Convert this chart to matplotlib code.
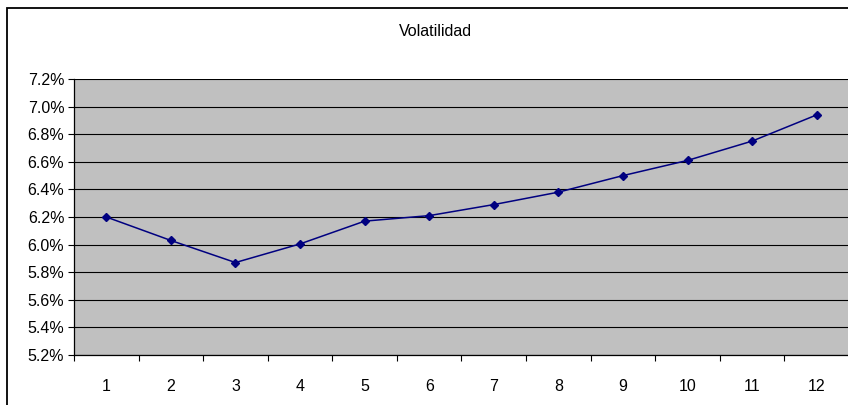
import matplotlib.pyplot as plt
from matplotlib.patches import Rectangle
from matplotlib.ticker import FixedLocator, FuncFormatter

# Volatility by period (percent)
periods = list(range(1, 13))
volatility = [6.20, 6.03, 5.87, 6.005, 6.17, 6.21, 6.29, 6.38, 6.50, 6.61, 6.75, 6.94]
y_ticks = [5.2, 5.4, 5.6, 5.8, 6.0, 6.2, 6.4, 6.6, 6.8, 7.0, 7.2]
title = 'Volatilidad'

plt.rcParams['font.family'] = ['Liberation Sans', 'DejaVu Sans']

W, H = 848, 405
fig = plt.figure(figsize=(W / 100, H / 100), dpi=100)

# chart-area frame, open on the right and bottom edges
fig.patches.append(Rectangle((6.5 / W, -0.1), 1.2, 1 - 7.5 / H + 0.1,
                             transform=fig.transFigure, fill=False,
                             edgecolor='black', linewidth=1.3))

ax = fig.add_axes([74 / W, 1 - 355 / H, (849 - 74) / W, (355 - 79) / H])
ax.set_facecolor('#C0C0C0')

ax.plot(periods, volatility, color='#000080', linewidth=1.1,
        marker='D', markersize=4.5, zorder=3, clip_on=False)

ax.set_xlim(0.5, 12.5)
ax.set_ylim(5.2, 7.2)

ax.set_yticks(y_ticks)
ax.yaxis.set_major_formatter(FuncFormatter(lambda v, p: f'{v:.1f}%'))
ax.grid(axis='y', color='black', linewidth=0.8)
ax.set_axisbelow(True)

# category labels at centres, tick marks on the boundaries
ax.set_xticks(periods)
ax.set_xticklabels([str(p) for p in periods])
ax.xaxis.set_minor_locator(FixedLocator([p + 0.5 for p in range(0, 13)]))
ax.tick_params(axis='x', which='major', length=0, pad=17, labelsize=11.5)
ax.tick_params(axis='x', which='minor', length=4, width=0.8, direction='out')
ax.tick_params(axis='y', length=4, width=0.8, direction='out', pad=3, labelsize=11.5)

for side in ['top', 'right']:
    ax.spines[side].set_visible(False)
for side in ['left', 'bottom']:
    ax.spines[side].set_linewidth(0.9)

fig.text(435 / W, 1 - 31 / H, title, ha='center', va='center', fontsize=11.5)

fig.savefig('out.png', dpi=100)
